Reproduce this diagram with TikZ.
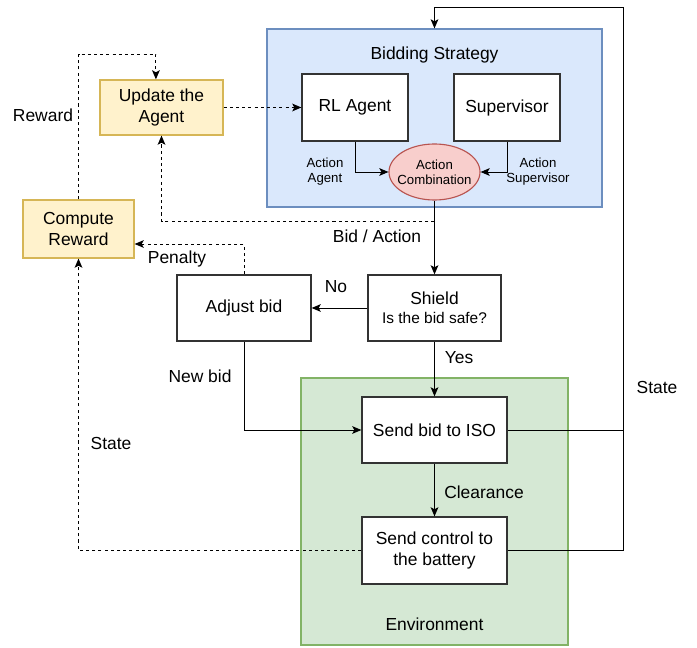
\documentclass[tikz,border=0pt]{standalone}
\usepackage{fontspec}
\setmainfont{Liberation Sans}
\usetikzlibrary{arrows.meta, shapes.geometric}
\definecolor{stratfill}{HTML}{DAE8FC}
\definecolor{stratline}{HTML}{6C8EBF}
\definecolor{envfill}{HTML}{D5E8D4}
\definecolor{envline}{HTML}{82B366}
\definecolor{rwdfill}{HTML}{FFF2CC}
\definecolor{rwdline}{HTML}{D6B656}
\definecolor{combfill}{HTML}{F8CECC}
\definecolor{combline}{HTML}{B85450}

\begin{document}
\begin{tikzpicture}[x=0.025cm,y=-0.025cm]
\useasboundingbox (0,0) rectangle (697,648);
\tikzstyle{big}=[font=\fontsize{12.4}{14.4}\selectfont]
\tikzstyle{small}=[font=\fontsize{9.4}{10.7}\selectfont]
\tikzstyle{box}=[rectangle, draw=black!80, fill=white, line width=0.9pt,
                        inner sep=2pt, align=center, big]
\tikzstyle{grp}=[rectangle, line width=0.8pt, inner sep=0pt]
\tikzstyle{rwd}=[box, draw=rwdline, fill=rwdfill]
\tikzstyle{lbl}=[inner sep=1pt, align=center, big]
\tikzstyle{flow}=[line width=0.7pt, -{Stealth[length=6.5pt, width=5.5pt, inset=1.5pt]}]
\tikzstyle{dflow}=[flow, dash pattern=on 2.2pt off 2.2pt]

\node[grp, draw=stratline, fill=stratfill, minimum width=8.375cm, minimum height=4.45cm](strat) at (434.5,118){};
\node[grp, draw=envline, fill=envfill, minimum width=6.675cm, minimum height=6.675cm](env) at (434.5,511.5){};
\node[lbl](strattitle) at (434.5,55){Bidding Strategy};
\node[lbl](envtitle) at (434.5,624){Environment};

\node[box, minimum width=2.65cm, minimum height=1.675cm](rl) at (355,107.5){RL Agent};
\node[box, minimum width=2.65cm, minimum height=1.675cm](sup) at (507,107.5){Supervisor};
\node[ellipse, draw=combline, fill=combfill, line width=0.8pt, inner xsep=-4pt, inner ysep=0pt,
      minimum width=2.275cm, minimum height=1.4cm, align=center, small](comb) at (434.5,172){Action\\Combination};
\node[rwd, minimum width=3.075cm, minimum height=1.375cm](upd) at (161.5,107.5){Update the\\Agent};
\node[rwd, minimum width=2.775cm, minimum height=1.45cm](comp) at (78.5,229){Compute\\Reward};
\node[box, minimum width=3.325cm, minimum height=1.65cm](shield) at (434.5,308){Shield\\[-1pt]{\fontsize{11}{13}\selectfont Is the bid safe?}};
\node[box, minimum width=3.35cm, minimum height=1.65cm](adj) at (244,308){Adjust bid};
\node[box, minimum width=3.625cm, minimum height=1.65cm](send) at (434.5,430){Send bid to ISO};
\node[box, minimum width=3.625cm, minimum height=1.675cm](ctrl) at (434.5,550.5){Send control to\\the battery};

\coordinate(br) at (434.5,221);
\coordinate(rtop) at (78.5,54);
\coordinate(rb) at (623,550.5);
\coordinate(rt) at (623,7);

\draw[flow] (rl.south) |- (comb.west);
\draw[flow] (sup.south) |- (comb.east);
\foreach \i/\j in {comb/shield, shield/adj, shield/send, send/ctrl}{\draw[flow] (\i) -- (\j);}
\draw[flow] (adj.south) |- (send.west);
\draw[dflow] (upd.east) -- (rl.west);
\draw[dflow] (br) -| (upd.south);
\draw[dflow] (comp.north) -- (rtop) -| ([xshift=-0.14cm]upd.north);
\draw[dflow] (adj.north) |- ([yshift=-0.375cm]comp.east);
\draw[dflow] (ctrl.west) -| (comp.south);
\draw[line width=0.7pt] (send.east) -- (send.east -| rt);
\draw[flow] (ctrl.east) -- (rb) -- (rt) -| (strat.north);

\node[lbl, small](lagent) at (325,172){Action\\Agent};
\node[lbl, small](lsup) at (538,172){Action\\Supervisor};
\node[lbl](lbid) at (377,236){Bid / Action};
\node[lbl](lno) at (336,287){No};
\node[lbl](lyes) at (459,358){Yes};
\node[lbl](lpen) at (177,259){Penalty};
\node[lbl](lnew) at (200,376){New bid};
\node[lbl](lclr) at (484,492){Clearance};
\node[lbl](lstl) at (111,443){State};
\node[lbl](lstr) at (657,387){State};
\node[lbl](lrwd) at (43,115){Reward};
\end{tikzpicture}
\end{document}
